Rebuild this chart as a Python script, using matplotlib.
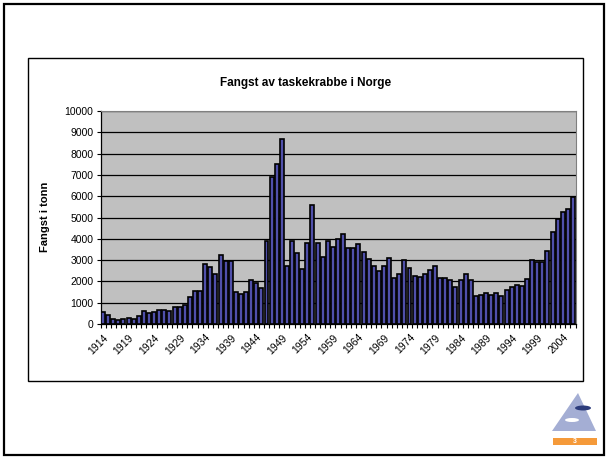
import matplotlib.pyplot as plt
import numpy as np
from matplotlib.patches import Rectangle, Polygon, Ellipse

plt.rcParams['font.family'] = ['Liberation Sans', 'DejaVu Sans']

# catch of edible crab in Norway, tonnes per year
years = list(range(1914, 2007))
catch = [
    550, 430, 250, 200, 230, 280, 240, 370, 630, 520,
    550, 680, 650, 600, 810, 810, 890, 1270, 1540, 1540,
    2810, 2690, 2330, 3220, 2980, 2980, 1480, 1400, 1480, 2050,
    1920, 1670, 3900, 6880, 7500, 8700, 2730, 3900, 3310, 2580,
    3810, 5580, 3810, 3160, 3900, 3620, 3970, 4220, 3550, 3590,
    3770, 3360, 3050, 2730, 2500, 2730, 3090, 2170, 2360, 3000,
    2630, 2270, 2220, 2360, 2550, 2730, 2170, 2170, 2080, 1750,
    2080, 2330, 2080, 1300, 1360, 1470, 1360, 1470, 1300, 1580,
    1720, 1810, 1770, 2130, 3000, 2890, 2890, 3440, 4310, 4950,
    5270, 5420, 5980,
]
yticks = list(range(0, 10001, 1000))


def main():
    fig = plt.figure(figsize=(6.09, 4.59), dpi=100)

    # slide border and chart area box
    fig.patches.append(Rectangle((4 / 609, 4 / 459), 600 / 609, 451 / 459,
                                 transform=fig.transFigure, fill=False,
                                 edgecolor='black', linewidth=1.6))
    fig.patches.append(Rectangle((28 / 609, 1 - 381 / 459), 555 / 609, 323 / 459,
                                 transform=fig.transFigure, fill=False,
                                 edgecolor='black', linewidth=1.0))

    ax = fig.add_axes([100.5 / 609, 1 - 324 / 459, 475 / 609, 213 / 459])
    ax.set_facecolor('#c0c0c0')
    x = np.arange(len(years))
    ax.bar(x, catch, width=0.78, color='#5050aa', edgecolor='black', linewidth=1.2,
           zorder=3)

    ax.set_xlim(-0.5, len(years) - 0.5)
    ax.set_ylim(0, 10000)
    ax.set_yticks(yticks)
    ax.set_yticklabels([str(v) for v in yticks], fontsize=7.5)
    ax.grid(axis='y', color='black', linewidth=0.9, zorder=1)

    ax.set_xticks(x[::5])
    ax.set_xticklabels([str(y) for y in years[::5]], rotation=45, ha='right',
                       rotation_mode='anchor', fontsize=7.5)
    ax.set_xticks(np.arange(-0.5, len(years)), minor=True)
    ax.tick_params(axis='x', which='major', length=0, pad=6)
    ax.tick_params(axis='x', which='minor', length=3, width=0.8)
    ax.tick_params(axis='y', length=3, width=0.8, pad=2)

    for side in ('top', 'right'):
        ax.spines[side].set_color('#808080')
        ax.spines[side].set_linewidth(0.8)
    for side in ('left', 'bottom'):
        ax.spines[side].set_color('black')
        ax.spines[side].set_linewidth(0.9)

    fig.text(0.501, 1 - 83 / 459, 'Fangst av taskekrabbe i Norge', ha='center',
             va='center', fontsize=8.5, fontweight='bold')
    fig.text(45 / 609, 1 - 217 / 459, 'Fangst i tonn', rotation=90, ha='center',
             va='center', fontsize=8, fontweight='bold')

    # small logo in the corner
    fig.patches.append(Polygon([(578 / 609, 1 - 393 / 459), (552 / 609, 1 - 431 / 459),
                                (596 / 609, 1 - 431 / 459)], closed=True,
                               transform=fig.transFigure, facecolor='#a4aed4',
                               edgecolor='none'))
    fig.patches.append(Ellipse((583 / 609, 1 - 408 / 459), 16 / 609, 5 / 459,
                               transform=fig.transFigure, facecolor='#2c3c7c',
                               edgecolor='none'))
    fig.patches.append(Ellipse((572 / 609, 1 - 420 / 459), 14 / 609, 4 / 459,
                               transform=fig.transFigure, facecolor='white',
                               edgecolor='none'))
    fig.patches.append(Rectangle((553 / 609, 1 - 445 / 459), 44 / 609, 7 / 459,
                                 transform=fig.transFigure, facecolor='#f59a3a',
                                 edgecolor='none'))
    fig.text(575 / 609, 1 - 441.5 / 459, '3', ha='center', va='center',
             fontsize=5, color='white', fontweight='bold')

    fig.savefig('out.png', dpi=100)


main()
